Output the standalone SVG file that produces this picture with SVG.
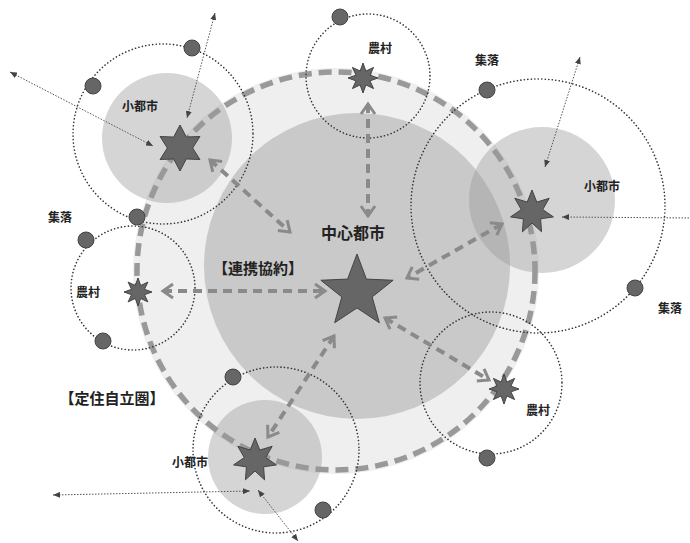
<svg xmlns="http://www.w3.org/2000/svg" xmlns:xlink="http://www.w3.org/1999/xlink" width="690" height="543" viewBox="0 0 690 543">
<style>
.lbl{font-family:"Noto Sans CJK JP","Noto Sans CJK SC",sans-serif;font-weight:bold;fill:#222;text-anchor:middle}
.s{font-size:12px}
.m{font-size:15px}
.l{font-size:16px}
.dot{fill:#666;stroke:#444;stroke-width:1}
.rng{fill:none;stroke:#333;stroke-width:1.6;stroke-dasharray:0.1 3.4;stroke-linecap:round}
.link{fill:none;stroke:#8a8a8a;stroke-width:4;stroke-dasharray:9 6;marker-start:url(#chev);marker-end:url(#chev)}
.ext{fill:none;stroke:#555;stroke-width:1;stroke-dasharray:1.5 1.5}
.star{fill:#666;stroke:#444;stroke-width:1;vector-effect:non-scaling-stroke}
</style>
<defs>
<marker id="chev" markerUnits="userSpaceOnUse" markerWidth="16" markerHeight="18" refX="12" refY="9" orient="auto-start-reverse" viewBox="0 0 16 18">
<path d="M2,2 L12,9 L2,16" fill="none" stroke="#8a8a8a" stroke-width="3"/>
</marker>
<marker id="tip" markerUnits="userSpaceOnUse" markerWidth="7" markerHeight="6" refX="7" refY="3" orient="auto-start-reverse" viewBox="0 0 7 6">
<path d="M0,0 L7,3 L0,6 Z" fill="#444"/>
</marker>
<path id="star5" class="star" d="M0,-1 L0.2469,-0.3398 L0.9511,-0.309 L0.3995,0.1298 L0.5878,0.809 L0,0.42 L-0.5878,0.809 L-0.3995,0.1298 L-0.9511,-0.309 L-0.2469,-0.3398 Z"/>
<path id="star6" class="star" d="M0,-1 L0.275,-0.476 L0.866,-0.5 L0.55,0 L0.866,0.5 L0.275,0.476 L0,1 L-0.275,0.476 L-0.866,0.5 L-0.55,0 L-0.866,-0.5 L-0.275,-0.476 Z"/>
<path id="star7" class="star" d="M0,-1 L0.217,-0.4505 L0.7818,-0.6235 L0.4875,-0.1113 L0.9749,0.2225 L0.3909,0.3117 L0.4339,0.901 L0,0.5 L-0.4339,0.901 L-0.3909,0.3117 L-0.9749,0.2225 L-0.4875,-0.1113 L-0.7818,-0.6235 L-0.217,-0.4505 Z"/>
<path id="star8" class="star" d="M0,-1 L0.1913,-0.4619 L0.7071,-0.7071 L0.4619,-0.1913 L1,0 L0.4619,0.1913 L0.7071,0.7071 L0.1913,0.4619 L0,1 L-0.1913,0.4619 L-0.7071,0.7071 L-0.4619,0.1913 L-1,0 L-0.4619,-0.1913 L-0.7071,-0.7071 L-0.1913,-0.4619 Z"/>
</defs>
<rect width="690" height="543" fill="#fff"/>
<g id="area">
<circle cx="336" cy="271" r="203" fill="#efefef"/>
<circle cx="357" cy="266" r="153" fill="#c9c9c9"/>
</g>
<g id="city-fills">
<circle cx="167" cy="138" r="65" fill="#9a9a9a" fill-opacity="0.42"/>
<circle cx="542" cy="200" r="73" fill="#9a9a9a" fill-opacity="0.42"/>
<circle cx="265" cy="457" r="57" fill="#9a9a9a" fill-opacity="0.42"/>
</g>
<g id="boundary">
<circle cx="336" cy="271" r="199" fill="none" stroke="#999" stroke-width="5.5" stroke-dasharray="13 7"/>
</g>
<g id="ranges">
<circle class="rng" cx="163" cy="134" r="90"/>
<circle class="rng" cx="368" cy="76" r="62"/>
<circle class="rng" cx="538" cy="206" r="127"/>
<circle class="rng" cx="133" cy="288" r="62"/>
<circle class="rng" cx="491" cy="383" r="71"/>
<circle class="rng" cx="276" cy="450" r="83"/>
</g>
<g id="connectors">
<line class="link" x1="210" y1="160" x2="290" y2="232"/>
<line class="link" x1="368" y1="104" x2="368" y2="216"/>
<line class="link" x1="502" y1="224" x2="407" y2="278"/>
<line class="link" x1="163" y1="291" x2="325" y2="291"/>
<line class="link" x1="385" y1="318" x2="489" y2="380"/>
<line class="link" x1="334" y1="336" x2="268" y2="437"/>
<line class="ext" x1="10" y1="72" x2="153" y2="146" marker-start="url(#tip)" marker-end="url(#tip)"/>
<line class="ext" x1="215" y1="13" x2="187" y2="118" marker-start="url(#tip)" marker-end="url(#tip)"/>
<line class="ext" x1="580" y1="57" x2="545" y2="167" marker-start="url(#tip)" marker-end="url(#tip)"/>
<line class="ext" x1="692" y1="218" x2="562" y2="217" marker-end="url(#tip)"/>
<line class="ext" x1="53" y1="495" x2="250" y2="491" marker-start="url(#tip)" marker-end="url(#tip)"/>
<line class="ext" x1="258" y1="490" x2="298" y2="541" marker-start="url(#tip)" marker-end="url(#tip)"/>
</g>
<g id="settlements">
<circle class="dot" cx="192" cy="48" r="8"/>
<circle class="dot" cx="93" cy="86" r="8"/>
<circle class="dot" cx="137" cy="217" r="8"/>
<circle class="dot" cx="86" cy="240" r="8"/>
<circle class="dot" cx="340" cy="17" r="8"/>
<circle class="dot" cx="487" cy="90" r="8"/>
<circle class="dot" cx="103" cy="341" r="8"/>
<circle class="dot" cx="233" cy="377" r="8"/>
<circle class="dot" cx="323" cy="510" r="8"/>
<circle class="dot" cx="635" cy="288" r="8"/>
<circle class="dot" cx="487" cy="458" r="8"/>
</g>
<g id="center-city">
<use xlink:href="#star5" href="#star5" transform="translate(357,292) scale(38)"/>
<text class="lbl l" x="353" y="239">中心都市</text>
</g>
<g id="city-nw">
<use xlink:href="#star6" href="#star6" transform="translate(180,148) scale(23)"/>
<text class="lbl s" x="140" y="111">小都市</text>
</g>
<g id="city-e">
<use xlink:href="#star7" href="#star7" transform="translate(532,212) scale(22)"/>
<text class="lbl s" x="602" y="191">小都市</text>
</g>
<g id="city-sw">
<use xlink:href="#star7" href="#star7" transform="translate(255,460) scale(22)"/>
<text class="lbl s" x="190" y="467">小都市</text>
</g>
<g id="village-n">
<use xlink:href="#star8" href="#star8" transform="translate(363,78) scale(15)"/>
<text class="lbl s" x="380" y="53">農村</text>
</g>
<g id="village-w">
<use xlink:href="#star8" href="#star8" transform="translate(138,292) scale(14)"/>
<text class="lbl s" x="88" y="297">農村</text>
</g>
<g id="village-se">
<use xlink:href="#star8" href="#star8" transform="translate(504,389) scale(15)"/>
<text class="lbl s" x="538" y="415">農村</text>
</g>
<g id="labels">
<text class="lbl s" x="60" y="222">集落</text>
<text class="lbl s" x="487" y="65">集落</text>
<text class="lbl s" x="670" y="313">集落</text>
<text class="lbl m" x="258" y="274">【連携協約】</text>
<text class="lbl m" x="112" y="404">【定住自立圏】</text>
</g>
</svg>
